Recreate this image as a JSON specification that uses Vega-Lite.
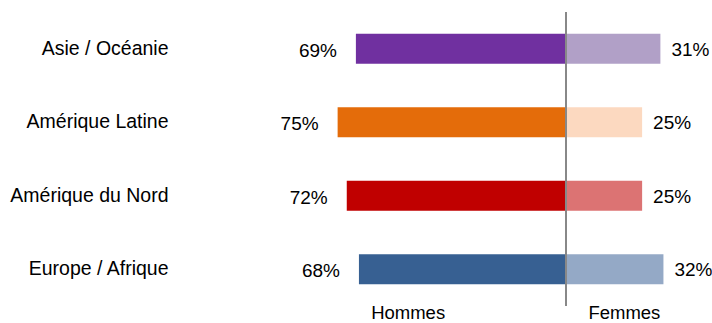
{
  "$schema": "https://vega.github.io/schema/vega-lite/v6.json",
  "width": 389.76,
  "height": 294,
  "autosize": "none",
  "padding": {"left": 322.4, "top": 12, "right": 0, "bottom": 17},
  "background": "#ffffff",
  "config": {"view": {"stroke": null}, "font": "Liberation Sans"},
  "data": {
    "values": [
      {"region": "Asie / Océanie", "sexe": "Hommes", "valeur": -69},
      {"region": "Asie / Océanie", "sexe": "Femmes", "valeur": 31},
      {"region": "Amérique Latine", "sexe": "Hommes", "valeur": -75},
      {"region": "Amérique Latine", "sexe": "Femmes", "valeur": 25},
      {"region": "Amérique du Nord", "sexe": "Hommes", "valeur": -72},
      {"region": "Amérique du Nord", "sexe": "Femmes", "valeur": 25},
      {"region": "Europe / Afrique", "sexe": "Hommes", "valeur": -68},
      {"region": "Europe / Afrique", "sexe": "Femmes", "valeur": 32}
    ]
  },
  "layer": [
    {
      "transform": [{"filter": "datum.sexe == 'Hommes'"}],
      "mark": {"type": "bar"},
      "encoding": {
        "y": {
          "field": "region", "type": "nominal", "title": null,
          "sort": ["Asie / Océanie", "Amérique Latine", "Amérique du Nord", "Europe / Afrique"],
          "scale": {"paddingInner": 0.592, "paddingOuter": 0.296},
          "axis": {"domain": false, "ticks": false, "tickSize": 0, "labelPadding": 154.4, "labelFontSize": 19.5, "labelColor": "#000000", "labelFont": "Liberation Sans", "labelLimit": 300}
        },
        "x": {
          "field": "valeur", "type": "quantitative", "title": null,
          "scale": {"domain": [-80, 48], "nice": false, "zero": false},
          "axis": {"values": [-52, 19], "labelExpr": "datum.value < 0 ? 'Hommes' : 'Femmes'", "grid": false, "domain": false, "ticks": false, "tickSize": 0, "labelPadding": -2, "labelFontSize": 18.5, "labelColor": "#000000", "labelBaseline": "top", "labelFont": "Liberation Sans"}
        },
        "x2": {"datum": 0},
        "color": {
          "field": "region", "type": "nominal", "legend": null,
          "scale": {"domain": ["Asie / Océanie", "Amérique Latine", "Amérique du Nord", "Europe / Afrique"], "range": ["#7030A0", "#E46C0A", "#C00000", "#376092"]}
        }
      }
    },
    {
      "transform": [{"filter": "datum.sexe == 'Femmes'"}],
      "mark": {"type": "bar"},
      "encoding": {
        "y": {"field": "region", "type": "nominal", "title": null, "sort": ["Asie / Océanie", "Amérique Latine", "Amérique du Nord", "Europe / Afrique"]},
        "x": {"field": "valeur", "type": "quantitative", "title": null},
        "x2": {"datum": 0},
        "color": {
          "field": "region", "type": "nominal", "legend": null,
          "scale": {"domain": ["Asie / Océanie", "Amérique Latine", "Amérique du Nord", "Europe / Afrique"], "range": ["#B1A0C7", "#FCD9C0", "#DC7373", "#94A9C6"]}
        }
      }
    },
    {
      "data": {"values": [{}]},
      "mark": {"type": "rule", "color": "#888888", "strokeWidth": 2},
      "encoding": {"x": {"datum": 0}}
    },
    {
      "transform": [{"filter": "datum.sexe == 'Hommes'"}],
      "mark": {"type": "text", "align": "right", "baseline": "middle", "dx": -19, "dy": 2, "fontSize": 19, "color": "#000000", "font": "Liberation Sans", "text": {"expr": "abs(datum.valeur) + '%'"}},
      "encoding": {
        "y": {"field": "region", "type": "nominal", "title": null, "sort": ["Asie / Océanie", "Amérique Latine", "Amérique du Nord", "Europe / Afrique"]},
        "x": {"field": "valeur", "type": "quantitative", "title": null}
      }
    },
    {
      "transform": [{"filter": "datum.sexe == 'Femmes'"}],
      "mark": {"type": "text", "align": "left", "baseline": "middle", "dx": 11, "dy": 1, "fontSize": 19, "color": "#000000", "font": "Liberation Sans", "text": {"expr": "abs(datum.valeur) + '%'"}},
      "encoding": {
        "y": {"field": "region", "type": "nominal", "title": null, "sort": ["Asie / Océanie", "Amérique Latine", "Amérique du Nord", "Europe / Afrique"]},
        "x": {"field": "valeur", "type": "quantitative", "title": null}
      }
    }
  ],
  "resolve": {"scale": {"color": "independent"}}
}
